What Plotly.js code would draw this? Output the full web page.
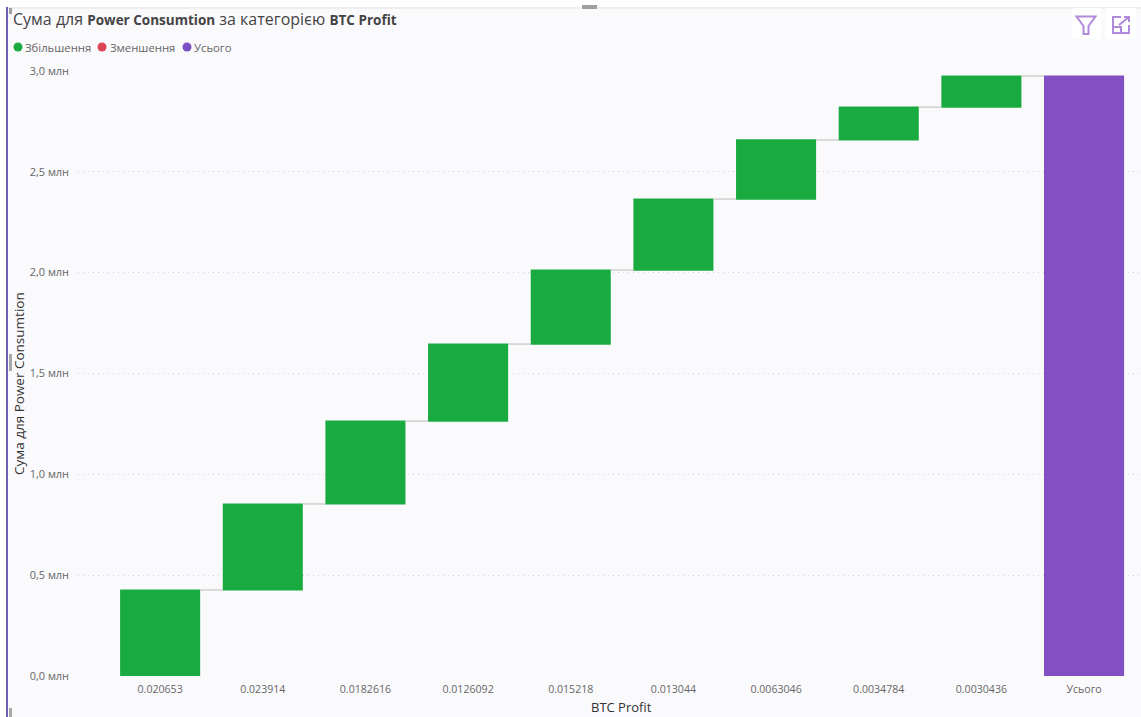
<!DOCTYPE html>
<html><head><meta charset="utf-8">
<script src="https://cdn.plot.ly/plotly-3.0.1.min.js"></script>
<style>html,body{margin:0;padding:0;background:#fff}#c{width:1141px;height:717px}</style></head>
<body><div id="c"></div>
<script>
const categories = ["0.020653","0.023914","0.0182616","0.0126092","0.015218","0.013044","0.0063046","0.0034784","0.0030436","Усього"];
const increments = [426500,426500,411000,382000,367000,352000,293000,163000,154000,0];
const measures = ["relative","relative","relative","relative","relative","relative","relative","relative","relative","total"];
const yTickVals = [0,500000,1000000,1500000,2000000,2500000,3000000];
const yTickText = ["0,0 млн","0,5 млн","1,0 млн","1,5 млн","2,0 млн","2,5 млн","3,0 млн"];
const legendNames = ["Збільшення","Зменшення","Усього"];
const xAxisTitle = "BTC Profit";
const yAxisTitle = "Сума для Power Consumtion";
const GREEN="#1AAB40", RED="#DD4455", PURPLE="#8350C4", LEG_PURPLE="#7A4FC4";
const W=1141,H=717,L=78,R=1,T=71,B=41;
const pw=W-L-R, ph=H-T-B;
const px=x=>(x-L)/pw, py=y=>1-(y-T)/ph;
const rect=(x0,y0,x1,y1,fill)=>({type:"rect",xref:"paper",yref:"paper",x0:px(x0),x1:px(x1),y0:py(y0),y1:py(y1),fillcolor:fill,line:{width:0},layer:"below"});
const dot=(cx,cy,r,fill)=>({type:"circle",xref:"paper",yref:"paper",x0:px(cx-r),x1:px(cx+r),y0:py(cy-r),y1:py(cy+r),fillcolor:fill,line:{width:0}});
const path=(pts,close,color,w)=>({type:"path",xref:"paper",yref:"paper",path:"M"+pts.map(p=>px(p[0])+","+py(p[1])).join(" L")+(close?" Z":""),line:{color:color,width:w},fillcolor:"rgba(0,0,0,0)"});
const ICON="#B08ADB";
const shapes=[
 rect(0,0,W,7,"#ffffff"), rect(0,7,W,9,"#eeeeee"), rect(0,0,6,H,"#ffffff"), rect(6,7,8,H,"#6A5FB5"),
 rect(9,8,12,14,"#a0a0a0"), rect(9,354,12,371,"#a8a8a8"), rect(9,708,12,717,"#a8a8a8"), rect(582,5,597,9,"#a0a0a0"),
 rect(1072,8,1101,39,"#ffffff"), rect(1106,8,1136,39,"#ffffff"),
 dot(18,47,4.5,GREEN), dot(102,47,4.5,RED), dot(187,47,4.5,LEG_PURPLE),
 path([[1076.5,16.5],[1095.5,16.5],[1088.5,26],[1088.5,34],[1083.5,34],[1083.5,26]],true,ICON,2),
 path([[1121,17],[1113,17],[1113,33],[1129,33],[1129,25]],false,ICON,2),
 path([[1113,27],[1121,27],[1121,33]],false,ICON,2),
 path([[1119,25],[1129,17]],false,ICON,2),
 path([[1124,17],[1129,17],[1129,22]],false,ICON,2)
];
const FONT="Open Sans, Noto Sans, sans-serif";
const legAnn=(x,t)=>({xref:"paper",yref:"paper",x:px(x),y:py(47),xanchor:"left",yanchor:"middle",showarrow:false,text:t,font:{family:FONT,size:11.3,color:"#666666"}});
const axisAnn=(x,y,t,size,angle)=>({xref:"paper",yref:"paper",x:px(x),y:py(y),xanchor:"center",yanchor:"middle",showarrow:false,text:t,textangle:angle,font:{family:FONT,size:size,color:"#333333"}});
const boldPart=t=>'<span style="font-size:13.5px;font-weight:bold">'+t+'</span>';
const trace={type:"waterfall",x:categories,y:increments,measure:measures,orientation:"v",width:0.78,
 increasing:{marker:{color:GREEN}},decreasing:{marker:{color:RED}},totals:{marker:{color:PURPLE}},
 connector:{visible:true,mode:"between",line:{color:"#c4c4c4",width:1.2,dash:"solid"}},showlegend:false,hoverinfo:"x+y"};
const layout={
 width:W,height:H,margin:{l:L,r:R,t:T,b:B,pad:0},paper_bgcolor:"#FAF9FC",plot_bgcolor:"rgba(0,0,0,0)",showlegend:false,
 title:{text:"Сума для "+boldPart("Power Consumtion")+" за категорією "+boldPart("BTC Profit"),x:13/W,xanchor:"left",xref:"container",y:1-19/H,yanchor:"middle",font:{family:FONT,size:16,color:"#444444"}},
 xaxis:{type:"category",categoryorder:"array",categoryarray:categories,range:[-0.8,9.545],showgrid:false,zeroline:false,showline:false,ticks:"",ticklen:0,tickangle:0,ticklabelstandoff:5,
   tickfont:{family:FONT,size:10.6,color:"#666666"},automargin:false},
 yaxis:{range:[0,3000000],tickvals:yTickVals,ticktext:yTickText,showgrid:true,gridcolor:"#D4D4D4",griddash:"1px,4px",gridwidth:1,zeroline:false,showline:false,ticks:"",ticklabelstandoff:8,
   tickfont:{family:FONT,size:10.9,color:"#666666"},automargin:false},
 shapes:shapes,
 annotations:[legAnn(23,legendNames[0]),legAnn(108,legendNames[1]),legAnn(192,legendNames[2]),
   axisAnn(621,707,xAxisTitle,13,0),axisAnn(19,384,yAxisTitle,13.5,-90)]
};
Plotly.newPlot("c",[trace],layout,{displayModeBar:false,responsive:false});
</script></body></html>
